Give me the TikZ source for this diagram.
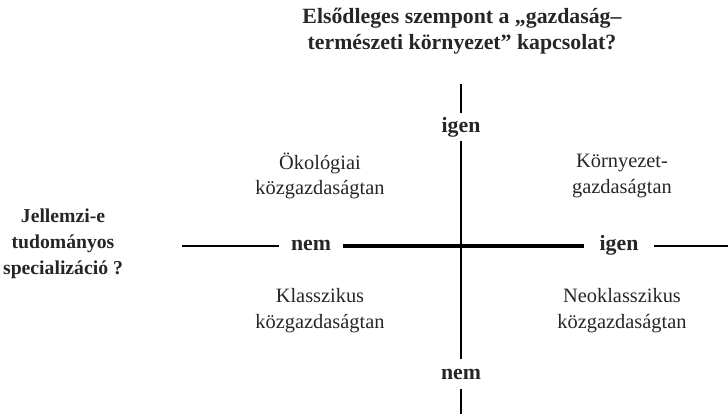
\documentclass[tikz,border=0pt]{standalone}
\usepackage{fontspec}
\setmainfont{Liberation Serif}
\usepackage{tikz}
\usetikzlibrary{positioning}

\begin{document}
\begin{tikzpicture}[x=0.025cm, y=-0.025cm, every node/.style={font=\fontsize{14.5}{18.4}\selectfont, align=center, inner sep=0pt, text=black!85}]
        \useasboundingbox (0,0) rectangle (728,414);

        % kerdesek
        \node (cim) [font=\fontsize{15.5}{18.4}\selectfont\bfseries] at (462,31) {Elsődleges szempont a „gazdaság–\\természeti környezet” kapcsolat?};
        \node (kerdes) [font=\fontsize{14}{18.4}\selectfont\bfseries] at (63,244) {Jellemzi-e\\tudományos\\specializáció ?};

        % tengelyek
        \node (nemx) [font=\fontsize{15.5}{18}\selectfont\bfseries, inner xsep=8pt] at (311,245) {nem};
        \node (igenx) [font=\fontsize{15.5}{18}\selectfont\bfseries, inner xsep=11pt] at (619,245) {igen};
        \node (igeny) [font=\fontsize{15.5}{18}\selectfont\bfseries, inner ysep=3pt] at (461,127) {igen};
        \node (nemy) [font=\fontsize{15.5}{18}\selectfont\bfseries, inner ysep=7pt] at (461,374) {nem};
        \coordinate (bal) at (182,246);
        \coordinate (jobb) at (728,246);
        \coordinate (fent) at (461,84);
        \coordinate (lent) at (461,414);

        \draw [line width=0.8pt] (bal) -- (nemx.west |- bal);
        \draw [line width=0.8pt] (igenx.east |- jobb) -- (jobb);
        \draw [line width=2.2pt] (nemx.east |- bal) -- (igenx.west |- bal);
        \draw [line width=1pt] (fent) -- (igeny.north);
        \draw [line width=1pt] (igeny.south) -- (nemy.north);
        \draw [line width=1pt] (nemy.south) -- (lent);

        % negyedek
        \node (okologiai) at (320,176) {Ökológiai\\közgazdaságtan};
        \node (kornyezet) at (622,176) {Környezet-\\gazdaságtan};
        \node (klasszikus) at (320,311) {Klasszikus\\közgazdaságtan};
        \node (neoklasszikus) at (622,311) {Neoklasszikus\\közgazdaságtan};
    \end{tikzpicture}
\end{document}
